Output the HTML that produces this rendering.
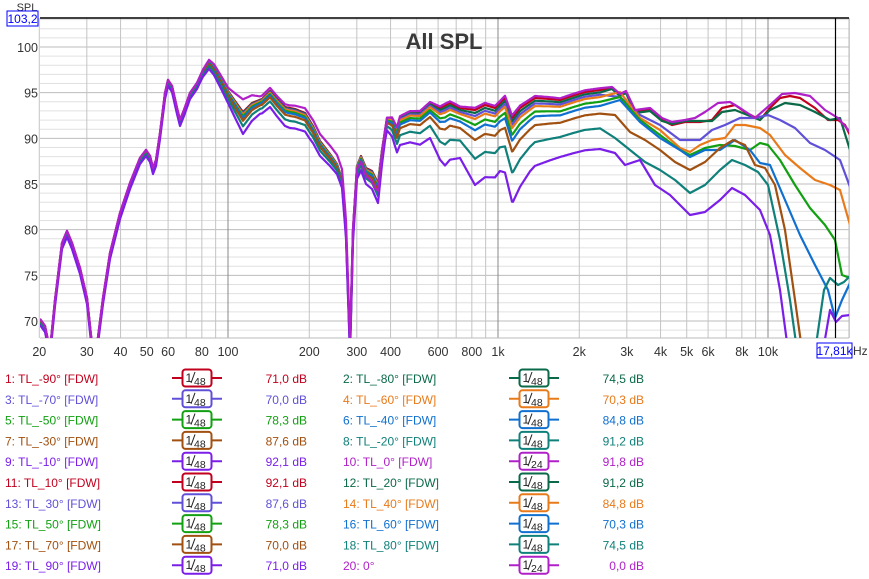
<!DOCTYPE html>
<html><head><meta charset="utf-8">
<style>
html,body{margin:0;padding:0;background:#fff;width:869px;height:579px;overflow:hidden;font-family:"Liberation Sans",sans-serif;}
svg{position:absolute;left:0;top:0;}
</style></head>
<body>
<svg id="s" width="869" height="579" xmlns="http://www.w3.org/2000/svg" font-family="Liberation Sans, sans-serif"></svg>
<script>
const s=document.getElementById('s');
let h='';
const X0=40,X1=849,Y0=18,Y1=338;
const fx=f=>228+270*Math.log10(f/100);
const fy=d=>47+(100-d)*9.133;
for(let d=69;d<=103;d++){const y=fy(d);if(y<Y0||y>Y1)continue;
 h+=`<line x1="${X0}" y1="${y}" x2="${X1}" y2="${y}" stroke="${d%5==0?'#bdbdbd':'#e0e0e0'}" stroke-width="1"/>`;}
for(let dec=10;dec<=10000;dec*=10){for(let m=1;m<10;m++){const f=dec*m;if(f<20||f>20000)continue;const x=fx(f);
 const major=m==1;h+=`<line x1="${x}" y1="${Y0}" x2="${x}" y2="${Y1}" stroke="${major?'#888':'#c4c4c4'}" stroke-width="1"/>`;}}
h+=`<line x1="${X1}" y1="${Y0}" x2="${X1}" y2="${Y1}" stroke="#bbb"/>`;
h+=`<line x1="${X0}" y1="${Y1}" x2="${X1}" y2="${Y1}" stroke="#bbb"/>`;
h+=`<line x1="${X0}" y1="${Y0}" x2="${X1}" y2="${Y0}" stroke="#000" stroke-width="1.5"/>`;
h+=`<text x="444" y="49" font-size="22" font-weight="bold" fill="#3a3a3a" text-anchor="middle">All SPL</text>`;
for(let d=70;d<=100;d+=5){h+=`<text x="38" y="${fy(d)+5}" font-size="12.5" fill="#333" text-anchor="end">${d}</text>`;}
h+=`<text x="27" y="11" font-size="11" fill="#333" text-anchor="middle">SPL</text>`;
h+=`<rect x="7" y="11" width="31" height="15" fill="#fff" stroke="#00f"/><text x="22.5" y="23" font-size="12" fill="#00f" text-anchor="middle">103,2</text>`;
[[20,'20'],[30,'30'],[40,'40'],[50,'50'],[60,'60'],[80,'80'],[100,'100'],[200,'200'],[300,'300'],[400,'400'],[600,'600'],[800,'800'],[1000,'1k'],[2000,'2k'],[3000,'3k'],[4000,'4k'],[5000,'5k'],[6000,'6k'],[8000,'8k'],[10000,'10k']].forEach(([f,t])=>{
 h+=`<text x="${fx(f)}" y="356" font-size="12.5" fill="#333" text-anchor="middle">${t}</text>`;});
h+=`<rect x="817" y="343" width="35" height="15" fill="#fff" stroke="#00f"/><text x="834.5" y="355" font-size="12" fill="#00f" text-anchor="middle">17,81k</text>`;
h+=`<text x="853" y="355" font-size="12" fill="#333">Hz</text>`;

const B=[[40,319],[45,326],[50,350],[55,300],[62,243],[67,231],[72,243],[80,268],[87,298],[92,345],[97,345],[103,298],[110,253],[120,213],[130,183],[140,158],[146,150],[150,156],[153,168],[156,160],[160,133],[165,93],[168,80],[172,86],[177,108],[180,120],[184,110],[190,93],[197,83],[203,70],[209,61],[214,66],[222,80],[228,91],[235,101],[243,112],[252,103],[262,99],[270,91],[277,99],[285,107],[295,109],[305,113],[313,126],[320,141],[330,154],[337,164],[342,179],[346,230],[350,345],[353,230],[357,166],[361,156],[366,168],[372,171],[378,183],[382,150],[387,118],[392,118],[397,128],[400,117],[410,112],[420,112],[430,103],[440,108],[450,103],[460,108],[475,110],[485,105],[495,108],[505,98],[512,118],[520,108],[535,98],[550,99],[560,100],[575,95],[585,92],[600,90]];
const D=[[40,6],[200,6],[228,12],[243,22],[260,14],[290,20],[310,18],[330,12],[345,8],[360,14],[378,20],[385,10],[400,28],[430,35],[445,60],[460,50],[475,75],[500,68],[513,85],[530,70],[560,57],[600,59]];
const M=[[40,0],[200,0],[228,-3],[243,-12],[260,-3],[290,-2],[330,-8],[345,-10],[360,6],[375,12],[385,0],[600,0]];
function interp(P,x){if(x<=P[0][0])return P[0][1];for(let i=1;i<P.length;i++){if(x<=P[i][0]){const a=P[i-1],b=P[i];return a[1]+(b[1]-a[1])*(x-a[0])/(b[0]-a[0]);}}return P[P.length-1][1];}
const series=[
 ['#c0001c',0,[[612,88],[620,95],[626,92],[635,112],[650,110],[662,120],[672,125],[685,122],[700,122],[712,120],[722,108],[735,105],[745,112],[760,120],[770,108],[780,98],[790,96],[800,98],[815,108],[828,120],[838,120],[845,125],[850,135]]],
 ['#0a6a48',0.04,[[612,89],[620,96],[626,93],[635,113],[650,111],[662,121],[672,124],[685,121],[700,121],[712,121],[722,112],[735,110],[745,114],[760,120],[770,110],[785,103],[800,105],[815,112],[830,120],[840,118],[850,150]]],
 ['#6050d8',0.08,[[620,97],[640,115],[660,125],[680,140],[700,140],[712,130],[725,125],[740,118],[755,118],[768,115],[780,120],[795,128],[810,143],[825,150],[840,160],[850,187]]],
 ['#e87a1a',0.12,[[620,92],[640,118],[660,130],[680,148],[690,152],[700,145],[712,140],[725,138],[735,125],[745,125],[760,128],[770,135],[785,155],[800,168],[815,180],[830,185],[840,190],[850,225]]],
 ['#12a012',0.2,[[620,97],[640,120],[660,135],[680,150],[690,155],[705,148],[720,145],[735,146],[750,150],[760,143],[768,145],[780,160],[795,185],[810,208],[825,225],[835,240],[842,275],[850,278]]],
 ['#1070d0',0.27,[[620,100],[640,122],[660,138],[680,150],[690,157],[705,150],[720,150],[735,140],[750,150],[760,163],[770,165],[785,200],[800,235],[815,265],[828,290],[835,318],[842,300],[850,283]]],
 ['#a05010',0.4,[[615,115],[630,132],[645,140],[660,150],[675,162],[690,170],[705,162],[720,148],[733,140],[745,145],[755,165],[765,168],[775,185],[785,230],[795,300],[802,350]]],
 ['#10807a',0.65,[[615,138],[630,150],[645,162],[660,170],[675,180],[690,193],[705,185],[720,170],[732,160],[745,165],[758,172],[768,185],[780,240],[790,300],[797,350]]],
 ['#7a1ee8',1,[[615,153],[625,165],[640,160],[655,185],[670,195],[690,215],[705,212],[720,200],[732,188],[745,195],[760,210],[770,235],[780,290],[788,350]]],
 ['#b020c8',-0.03,[[612,87],[620,94],[626,91],[635,110],[650,108],[662,118],[672,122],[685,120],[695,118],[705,112],[718,103],[730,102],[740,108],[755,118],[770,105],[782,94],[795,93],[810,96],[825,110],[838,118],[850,132]]]
];
h+=`<clipPath id="c"><rect x="${X0}" y="${Y0}" width="${X1-X0}" height="${Y1-Y0}"/></clipPath><g clip-path="url(#c)" fill="none" stroke-width="2.2" stroke-linejoin="round">`;
series.forEach(([col,w,hf],i)=>{
 const pts=[];
 for(let x=40;x<=600;x+=1){let y=interp(B,x)+w*interp(D,x);if(i==9)y+=interp(M,x);pts.push([x,y]);}
 hf.forEach(p=>pts.push(p));
 h+=`<polyline stroke="${col}" points="${pts.map(p=>p[0]+','+p[1].toFixed(1)).join(' ')}"/>`;
});
h+=`<polyline stroke="#10807a" points="816,345 824,290 830,278 838,285 844,282 850,276"/>`;
h+=`<polyline stroke="#7a1ee8" points="824,345 830,310 836,322 842,316 850,315"/>`;
h+=`</g>`;
h+=`<line x1="835.5" y1="${Y0}" x2="835.5" y2="${Y1}" stroke="#000" stroke-width="1.2"/>`;

const C={1:'#c0001c',2:'#0a6a48',3:'#6050d8',4:'#e87a1a',5:'#12a012',6:'#1070d0',7:'#a05010',8:'#10807a',9:'#7a1ee8',0:'#b020c8'};
const L=[['1: TL_-90° [FDW]','48','71,0 dB','2: TL_-80° [FDW]','48','74,5 dB'],
['3: TL_-70° [FDW]','48','70,0 dB','4: TL_-60° [FDW]','48','70,3 dB'],
['5: TL_-50° [FDW]','48','78,3 dB','6: TL_-40° [FDW]','48','84,8 dB'],
['7: TL_-30° [FDW]','48','87,6 dB','8: TL_-20° [FDW]','48','91,2 dB'],
['9: TL_-10° [FDW]','48','92,1 dB','10: TL_0° [FDW]','24','91,8 dB'],
['11: TL_10° [FDW]','48','92,1 dB','12: TL_20° [FDW]','48','91,2 dB'],
['13: TL_30° [FDW]','48','87,6 dB','14: TL_40° [FDW]','48','84,8 dB'],
['15: TL_50° [FDW]','48','78,3 dB','16: TL_60° [FDW]','48','70,3 dB'],
['17: TL_70° [FDW]','48','70,0 dB','18: TL_80° [FDW]','48','74,5 dB'],
['19: TL_90° [FDW]','48','71,0 dB','20: 0°','24','0,0 dB']];
function icon(x,y,col,d){return `<line x1="${x}" y1="${y}" x2="${x+50}" y2="${y}" stroke="${col}" stroke-width="2"/><rect x="${x+10.5}" y="${y-8.5}" width="29" height="17" rx="3" fill="#fff" stroke="${col}" stroke-width="2"/><text x="${x+13.5}" y="${y+4}" font-size="12" fill="#222">1</text><line x1="${x+23}" y1="${y-6}" x2="${x+19}" y2="${y+5}" stroke="#222" stroke-width="1"/><text x="${x+22}" y="${y+7}" font-size="10.5" fill="#222">${d}</text>`;}
L.forEach((r,i)=>{const y=378+i*20.8;const n1=2*i+1,n2=2*i+2;const c1=C[n1%10],c2=C[n2%10];
 h+=`<text x="5" y="${y+5}" font-size="12" fill="${c1}">${r[0]}</text>`+icon(172,y,c1,r[1])+`<text x="307" y="${y+5}" font-size="12" fill="${c1}" text-anchor="end">${r[2]}</text>`;
 h+=`<text x="343" y="${y+5}" font-size="12" fill="${c2}">${r[3]}</text>`+icon(509,y,c2,r[4])+`<text x="644" y="${y+5}" font-size="12" fill="${c2}" text-anchor="end">${r[5]}</text>`;
});
s.innerHTML=h;
</script>
</body></html>
